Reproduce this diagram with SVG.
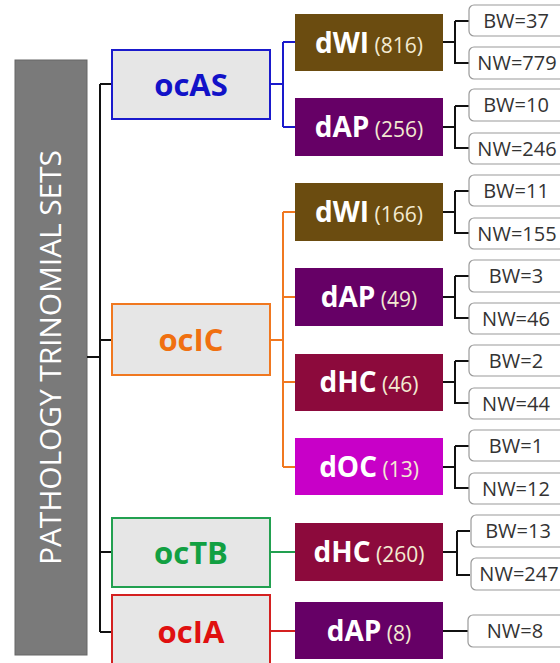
<svg xmlns="http://www.w3.org/2000/svg" width="560" height="663" viewBox="0 0 560 663">
<style>
.l1{fill:#e6e6e6;stroke-width:2}
.l1t{font-family:"Open Sans",sans-serif;font-weight:bold;font-size:31px;text-anchor:middle}
.l2t{font-family:"Open Sans",sans-serif;fill:#fff;text-anchor:middle}
.big{font-weight:bold;font-size:28px}
.sm{font-size:21px;fill:#f3ead2}
.leaf{fill:#fff;stroke:#9a9a9a;stroke-width:1.2}
.lt{font-family:"Open Sans",sans-serif;font-size:20px;fill:#333;text-anchor:middle}
.k{fill:none;stroke:#111;stroke-width:2}
</style>
<rect width="560" height="663" fill="#fff"/>
<g id="root">
<rect x="15" y="60" width="72" height="595" fill="#7a7a7a" stroke="#666" stroke-width="1"/>
<text transform="translate(61,357.5) rotate(-90)" text-anchor="middle" font-family="'Open Sans',sans-serif" font-size="30" fill="#fff" textLength="415" lengthAdjust="spacing">PATHOLOGY TRINOMIAL SETS</text>
</g>
<g id="connectors">
<path class="k" d="M87 357H100M100 84V632M100 84H112M100 340H112M100 552H112M100 632H112"/>
<path fill="none" stroke="#1a1acc" stroke-width="2" d="M270 84H283M283 42V127M283 42H295M283 127H295"/>
<path fill="none" stroke="#f07820" stroke-width="2" d="M270 340H283M283 212V467M283 212H295M283 297H295M283 382H295M283 467H295"/>
<path fill="none" stroke="#22a050" stroke-width="2" d="M270 552H295"/>
<path fill="none" stroke="#d42020" stroke-width="2" d="M270 631H295"/>
<path class="k" d="M443 42H455M455 21V63H469M455 21H469"/>
<path class="k" d="M443 127H455M455 106V148H469M455 106H469"/>
<path class="k" d="M443 212H455M455 191V233H469M455 191H469"/>
<path class="k" d="M443 297H455M455 276V318H469M455 276H469"/>
<path class="k" d="M443 382H455M455 361V403H469M455 361H469"/>
<path class="k" d="M443 467H455M455 446V488H469M455 446H469"/>
<path class="k" d="M443 552H457M457 531V575H470M457 531H470"/>
<path class="k" d="M443 631H468"/>
</g>
<g id="ocAS"><rect class="l1" x="112" y="50" width="158" height="69" stroke="#1a1acc"/><text class="l1t" x="191" y="96" fill="#1212c8">ocAS</text></g>
<g id="ocIC"><rect class="l1" x="112" y="304" width="158" height="71" stroke="#f07820"/><text class="l1t" x="191" y="351" fill="#f07010">ocIC</text></g>
<g id="ocTB"><rect class="l1" x="112" y="518" width="158" height="69" stroke="#22a050"/><text class="l1t" x="191" y="564" fill="#12a042">ocTB</text></g>
<g id="ocIA"><rect class="l1" x="112" y="595" width="158" height="75" stroke="#d42020"/><text class="l1t" x="191" y="643" fill="#e01010">ocIA</text></g>
<g id="dWI816"><rect x="295" y="14" width="148" height="57" fill="#6b4c10"/><text class="l2t" x="369" y="53"><tspan class="big">dWI</tspan><tspan class="sm"> (816)</tspan></text></g>
<g id="dAP256"><rect x="295" y="98" width="148" height="58" fill="#660066"/><text class="l2t" x="369" y="137"><tspan class="big">dAP</tspan><tspan class="sm"> (256)</tspan></text></g>
<g id="dWI166"><rect x="295" y="183" width="148" height="58" fill="#6b4c10"/><text class="l2t" x="369" y="222"><tspan class="big">dWI</tspan><tspan class="sm"> (166)</tspan></text></g>
<g id="dAP49"><rect x="295" y="268" width="148" height="58" fill="#660066"/><text class="l2t" x="369" y="307"><tspan class="big">dAP</tspan><tspan class="sm"> (49)</tspan></text></g>
<g id="dHC46"><rect x="295" y="354" width="148" height="57" fill="#8c0a3c"/><text class="l2t" x="369" y="392"><tspan class="big">dHC</tspan><tspan class="sm"> (46)</tspan></text></g>
<g id="dOC13"><rect x="295" y="438" width="148" height="57" fill="#c800c8"/><text class="l2t" x="369" y="477"><tspan class="big">dOC</tspan><tspan class="sm"> (13)</tspan></text></g>
<g id="dHC260"><rect x="295" y="523" width="148" height="58" fill="#8c0a3c"/><text class="l2t" x="369" y="562"><tspan class="big">dHC</tspan><tspan class="sm"> (260)</tspan></text></g>
<g id="dAP8"><rect x="295" y="602" width="148" height="57" fill="#660066"/><text class="l2t" x="369" y="641"><tspan class="big">dAP</tspan><tspan class="sm"> (8)</tspan></text></g>
<g id="leaves">
<g id="bw37"><rect class="leaf" x="469" y="5" width="110" height="31" rx="5"/><text class="lt" x="516" y="28">BW=37</text></g>
<g id="nw779"><rect class="leaf" x="469" y="47" width="110" height="32" rx="5"/><text class="lt" x="517" y="70">NW=779</text></g>
<g id="bw10"><rect class="leaf" x="469" y="89" width="110" height="32" rx="5"/><text class="lt" x="516" y="112">BW=10</text></g>
<g id="nw246"><rect class="leaf" x="469" y="133" width="110" height="31" rx="5"/><text class="lt" x="517" y="156">NW=246</text></g>
<g id="bw11"><rect class="leaf" x="469" y="175" width="110" height="31" rx="5"/><text class="lt" x="516" y="198">BW=11</text></g>
<g id="nw155"><rect class="leaf" x="469" y="218" width="110" height="31" rx="5"/><text class="lt" x="517" y="241">NW=155</text></g>
<g id="bw3"><rect class="leaf" x="469" y="260" width="110" height="32" rx="5"/><text class="lt" x="516" y="283">BW=3</text></g>
<g id="nw46"><rect class="leaf" x="469" y="303" width="110" height="31" rx="5"/><text class="lt" x="516" y="326">NW=46</text></g>
<g id="bw2"><rect class="leaf" x="469" y="345" width="110" height="31" rx="5"/><text class="lt" x="516" y="368">BW=2</text></g>
<g id="nw44"><rect class="leaf" x="469" y="388" width="110" height="31" rx="5"/><text class="lt" x="516" y="411">NW=44</text></g>
<g id="bw1"><rect class="leaf" x="469" y="430" width="110" height="31" rx="5"/><text class="lt" x="516" y="453">BW=1</text></g>
<g id="nw12"><rect class="leaf" x="469" y="473" width="110" height="31" rx="5"/><text class="lt" x="516" y="496">NW=12</text></g>
<g id="bw13"><rect class="leaf" x="471" y="515" width="110" height="32" rx="5"/><text class="lt" x="518" y="538">BW=13</text></g>
<g id="nw247"><rect class="leaf" x="471" y="558" width="110" height="32" rx="5"/><text class="lt" x="519" y="581">NW=247</text></g>
<g id="nw8"><rect class="leaf" x="468" y="615" width="110" height="32" rx="5"/><text class="lt" x="515" y="638">NW=8</text></g>
</g>
</svg>
